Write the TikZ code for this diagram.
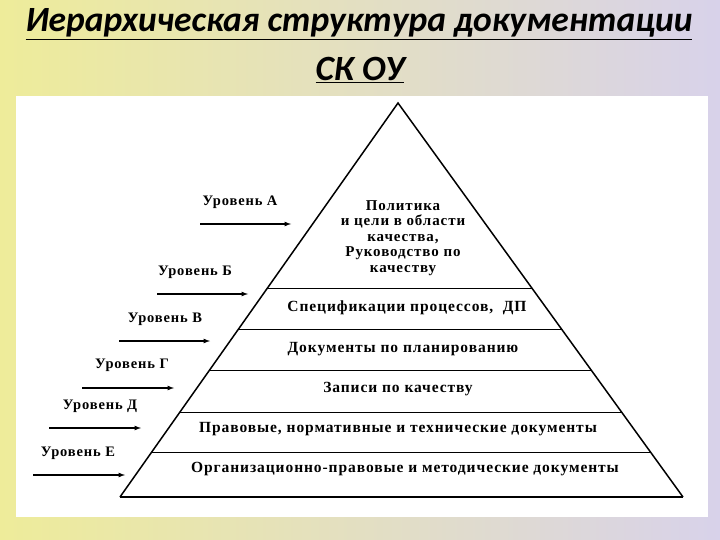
\documentclass[tikz,border=0pt]{standalone}
\usepackage{fontspec}
\usetikzlibrary{calc}
\setmainfont{Liberation Serif}
\newfontfamily\wide[LetterSpace=6]{Liberation Serif}
\newfontfamily\titlefont{Carlito}
\definecolor{bgl}{HTML}{EEEC9A}
\definecolor{bgr}{HTML}{D8D2EA}
\begin{document}
\begin{tikzpicture}[x=1pt,y=-1pt,
  lvl/.style={font=\wide\bfseries\fontsize{14.5}{16}\selectfont, inner sep=1pt},
  txt/.style={font=\wide\bfseries\fontsize{15.5}{17}\selectfont, align=center, inner sep=1pt},
  arr/.style={-latex, line width=1.2pt},
  edge/.style={line width=1.5pt},
  sep/.style={line width=0.9pt}]
\shade[left color=bgl, right color=bgr] (0,0) rectangle (720,540);
\useasboundingbox (0,0) rectangle (720,540);
\fill[white] (16,96) rectangle (708,517);
\node[font=\titlefont\bfseries\itshape\fontsize{35.5}{40}\selectfont] (t1) at (359,24) {\underline{Иерархическая структура документации}};
\node[font=\titlefont\bfseries\itshape\fontsize{35.5}{40}\selectfont] (t2) at (360,70) {\underline{СК ОУ}};
\coordinate (ap) at (398,103);
\coordinate (bl) at (120,497);
\coordinate (br) at (683,497);
\draw[edge] (bl) -- (ap) -- (br);
\draw[line width=2pt] (bl) -- (br);
\foreach \t in {0.4695,0.5736,0.6777,0.7843,0.8858}
  \draw[sep] ($(ap)!\t!(bl)$) -- ($(ap)!\t!(br)$);
\node[txt, font=\wide\bfseries\fontsize{15}{15.5}\selectfont] (p1) at (403,238) {Политика\\и цели в области\\качества,\\Руководство по\\качеству};
\node[txt] (p2) at (407,308) {Спецификации процессов,\ \ ДП};
\node[txt] (p3) at (403,349) {Документы по планированию};
\node[txt] (p4) at (398,389) {Записи по качеству};
\node[txt] (p5) at (398,429) {Правовые, нормативные и технические документы};
\node[txt] (p6) at (405,469) {Организационно-правовые и методические документы};
\node[lvl] (la) at (240,202) {Уровень А};
\node[lvl] (lb) at (195,272) {Уровень Б};
\node[lvl] (lc) at (165,319) {Уровень В};
\node[lvl] (ld) at (132,365) {Уровень Г};
\node[lvl] (le) at (100,406) {Уровень Д};
\node[lvl] (lf) at (78,453) {Уровень Е};
\coordinate (a1) at (200,224); \coordinate (a2) at (291,224);
\coordinate (b1) at (157,294); \coordinate (b2) at (248,294);
\coordinate (c1) at (119,341); \coordinate (c2) at (210,341);
\coordinate (d1) at (82,388);  \coordinate (d2) at (174,388);
\coordinate (e1) at (49,428);  \coordinate (e2) at (141,428);
\coordinate (f1) at (33,475);  \coordinate (f2) at (125,475);
\foreach \s in {a,b,c,d,e,f} \draw[arr] (\s1) -- (\s2);
\end{tikzpicture}
\end{document}
